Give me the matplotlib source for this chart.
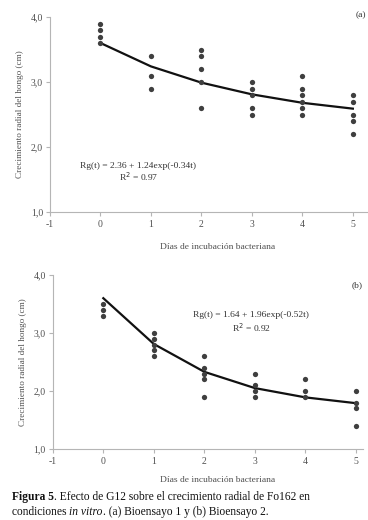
import matplotlib
matplotlib.use("Agg")
import matplotlib.pyplot as plt

plt.rcParams['font.family'] = ['Liberation Serif', 'DejaVu Serif']

# Panel (a) - Bioensayo 1
days_a = [0, 0, 0, 0,
          1, 1, 1,
          2, 2, 2, 2, 2,
          3, 3, 3, 3, 3,
          4, 4, 4, 4, 4, 4,
          5, 5, 5, 5, 5]
growth_a = [3.9, 3.8, 3.7, 3.6,
            3.4, 3.1, 2.9,
            3.5, 3.4, 3.2, 3.0, 2.6,
            3.0, 2.9, 2.8, 2.6, 2.5,
            3.1, 2.9, 2.8, 2.7, 2.6, 2.5,
            2.8, 2.7, 2.5, 2.4, 2.2]
fit_days = [0, 1, 2, 3, 4, 5]
fit_a = [3.60, 3.24, 2.99, 2.81, 2.68, 2.59]

# Panel (b) - Bioensayo 2
days_b = [0, 0, 0,
          1, 1, 1, 1, 1,
          2, 2, 2, 2, 2,
          3, 3, 3, 3,
          4, 4, 4,
          5, 5, 5, 5]
growth_b = [3.5, 3.4, 3.3,
            3.0, 2.9, 2.8, 2.7, 2.6,
            2.6, 2.4, 2.3, 2.2, 1.9,
            2.3, 2.1, 2.0, 1.9,
            2.2, 2.0, 1.9,
            2.0, 1.8, 1.7, 1.4]
fit_b = [3.60, 2.81, 2.33, 2.05, 1.89, 1.79]

xticks = [-1, 0, 1, 2, 3, 4, 5]
yticks = [1.0, 2.0, 3.0, 4.0]
ytick_labels = ['1,0', '2,0', '3,0', '4,0']

xlabel = 'Días de incubación bacteriana'
ylabel = 'Crecimiento radial del hongo (cm)'

W, H = 368, 520
fig = plt.figure(figsize=(W / 100, H / 100), dpi=100)

def frac(l, t, r, b):
    return [l / W, 1 - b / H, (r - l) / W, (b - t) / H]

def fy(y):
    return 1 - y / H

ax1 = fig.add_axes(frac(50, 17, 368, 212))
ax2 = fig.add_axes(frac(52.8, 275, 363, 449))

spine_c = '#b5b5b5'
text_c = '#505050'
dot_c = '#3f3f3f'
ann_c = '#333333'

def style(ax, xmax):
    ax.set_xlim(-1, xmax)
    ax.set_ylim(1.0, 4.0)
    ax.set_xticks(xticks)
    ax.set_xticklabels([str(t) for t in xticks])
    ax.set_yticks(yticks)
    ax.set_yticklabels(ytick_labels)
    for s in ['top', 'right']:
        ax.spines[s].set_visible(False)
    for s in ['left', 'bottom']:
        ax.spines[s].set_color(spine_c)
        ax.spines[s].set_linewidth(0.8)
    ax.tick_params(axis='both', colors=spine_c, labelcolor=text_c,
                   labelsize=7, length=3, width=0.8, direction='out')
    ax.tick_params(axis='x', pad=3)
    ax.tick_params(axis='y', pad=2)
    ax.set_ylabel(ylabel, fontsize=6.6, color=text_c, labelpad=5)

style(ax1, 5.3)
style(ax2, 5.14)

fig.text(218 / W, fy(247), xlabel, fontsize=6.8, color=text_c,
         ha='center', va='center')
fig.text(218 / W, fy(480), xlabel, fontsize=6.8, color=text_c,
         ha='center', va='center')

ax1.plot(fit_days, fit_a, color='#111111', lw=1.6, zorder=2)
ax1.plot(days_a, growth_a, 'o', color=dot_c, ms=3.8, mec='none', zorder=3)
ax1.text(0.75, 1.71, 'Rg(t) = 2.36 + 1.24exp(-0.34t)', fontsize=6.8,
         ha='center', va='center', color=ann_c)
ax1.text(0.75, 1.54, 'R$^{2}$ = 0.97', fontsize=6.8,
         ha='center', va='center', color=ann_c)
fig.text(366 / W, fy(15), '(a)', fontsize=6.8,
         ha='right', va='center', color=ann_c)

ax2.plot(fit_days, fit_b, color='#111111', lw=1.6, zorder=2)
ax2.plot(days_b, growth_b, 'o', color=dot_c, ms=3.8, mec='none', zorder=3)
ax2.text(2.93, 3.31, 'Rg(t) = 1.64 + 1.96exp(-0.52t)', fontsize=6.8,
         ha='center', va='center', color=ann_c)
ax2.text(2.93, 3.10, 'R$^{2}$ = 0.92', fontsize=6.8,
         ha='center', va='center', color=ann_c)
fig.text(357 / W, fy(285), '(b)', fontsize=6.8, ha='center', va='center',
         color=ann_c)

cap_fs = 8.3
cap_c = '#111111'
y1 = fy(497)
y2 = fy(512)
t1 = fig.text(12 / W, y1, 'Figura 5', fontsize=cap_fs, fontweight='bold',
              ha='left', va='center', color=cap_c)
fig.canvas.draw()
bb = t1.get_window_extent()
fig.text(bb.x1 / W, y1,
         '. Efecto de G12 sobre el crecimiento radial de Fo162 en',
         fontsize=cap_fs, ha='left', va='center', color=cap_c)
t2 = fig.text(12 / W, y2, 'condiciones ', fontsize=cap_fs,
              ha='left', va='center', color=cap_c)
fig.canvas.draw()
bb2 = t2.get_window_extent()
t3 = fig.text(bb2.x1 / W, y2, 'in vitro', fontsize=cap_fs, style='italic',
              ha='left', va='center', color=cap_c)
fig.canvas.draw()
bb3 = t3.get_window_extent()
fig.text(bb3.x1 / W, y2, '. (a) Bioensayo 1 y (b) Bioensayo 2.',
         fontsize=cap_fs, ha='left', va='center', color=cap_c)

fig.savefig('out.png', dpi=100)
